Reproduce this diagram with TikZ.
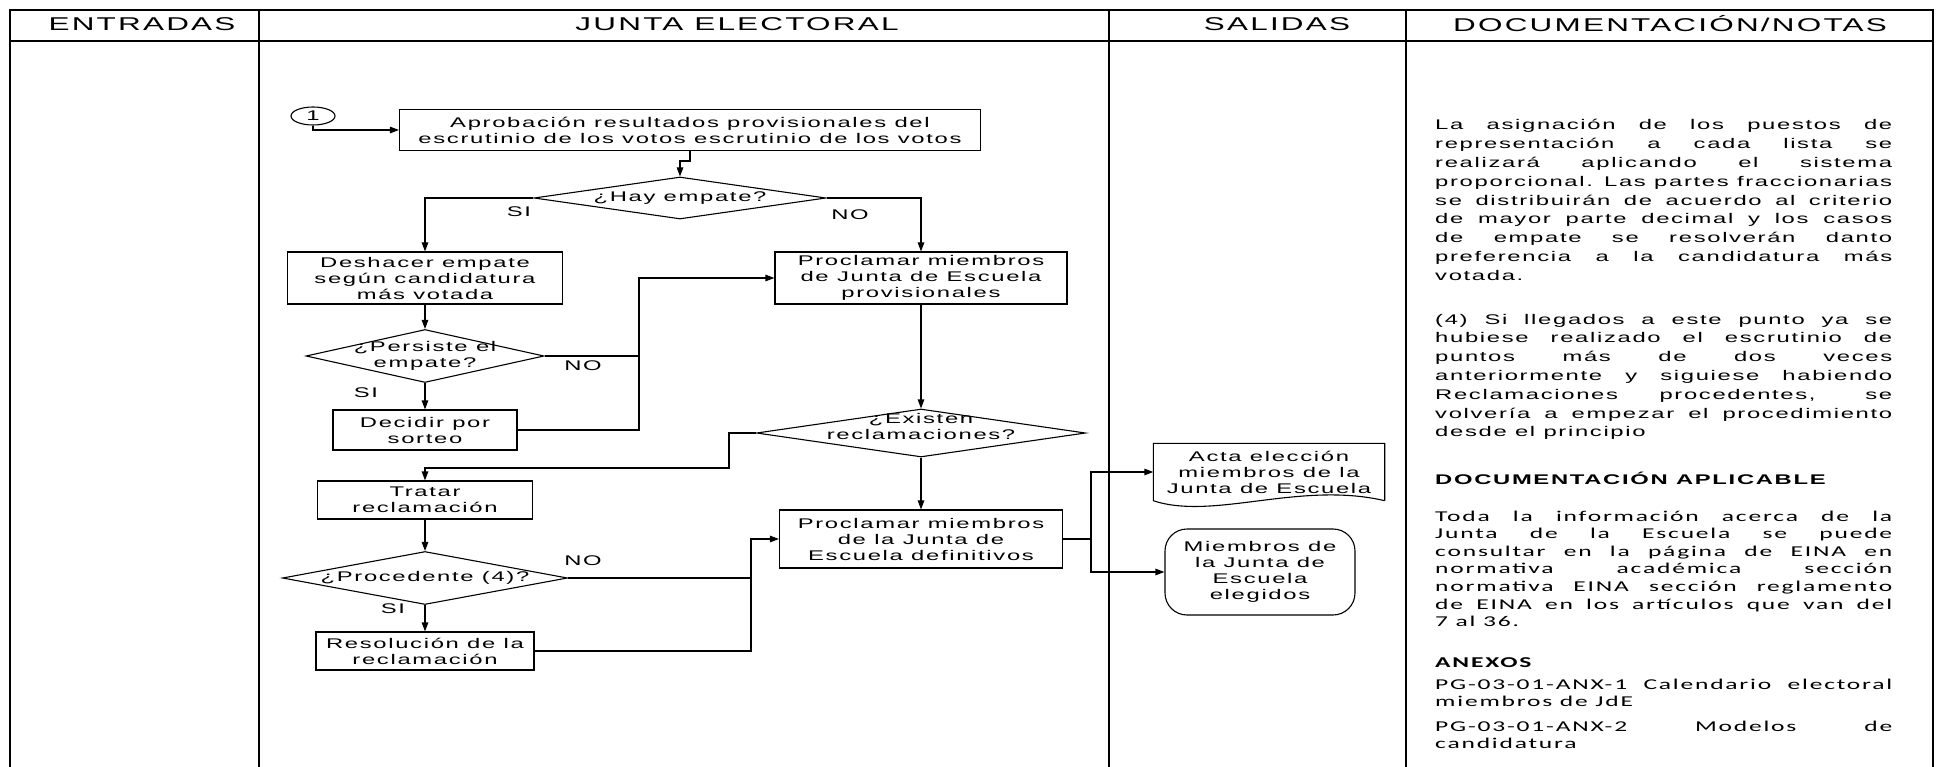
\documentclass[tikz,border=0pt]{standalone}
\usepackage{fontspec}
\setmainfont{Liberation Sans}[FakeStretch=1.7,LetterSpace=12]
\newfontfamily\calib{Carlito}[FakeStretch=1.7,LetterSpace=12]
\usetikzlibrary{arrows.meta, positioning, shapes.geometric}
\newcommand\jline[2][s]{\makebox[457pt][#1]{\spaceskip=0pt\xspaceskip=0pt\relax#2}}

\begin{document}
\begin{tikzpicture}[
        x=1pt, y=1pt,
        node distance=80pt,
        every node/.style={font=\fontsize{14}{16}\selectfont, inner sep=0pt},
        link/.style={line width=1.1pt},
        arrow/.style={-{Triangle[length=9pt,width=6.5pt]}, line width=1.1pt}
    ]

    \tikzset{
    procbox/.style={draw, line width=1.1pt, align=center},
    decision/.style={diamond, draw, line width=1.1pt},
    tbl/.style={line width=1.6pt},
    hdr/.style={font=\fontsize{18.5}{22}\selectfont},
    notes/.style={anchor=base west, text width=457pt, font=\fontsize{14}{18.8}\selectfont},
    cnotes/.style={anchor=base west, text width=457pt, font=\calib\fontsize{15}{17.6}\selectfont}
}

    \useasboundingbox (0,0) rectangle (1937,-767);

    % table
    \draw[tbl] (10,-767) -- (10,-10) -- (1933,-10) -- (1933,-767);
    \draw[tbl] (10,-41) -- (1933,-41);
    \foreach \x in {259,1109,1406}
        \draw[tbl] (\x,-10) -- (\x,-767);

    \node[hdr] (hent) at (142,-24) {ENTRADAS};
    \node[hdr] (hjun) at (737,-24) {JUNTA ELECTORAL};
    \node[hdr] (hsal) at (1277,-24) {SALIDAS};
    \node[hdr] (hdoc) at (1670,-24) {DOCUMENTACIÓN/NOTAS};

    % flow
    \node[ellipse, draw, line width=1.1pt, minimum width=44pt, minimum height=18pt] (c1) at (313,-116) {1};
    \node[procbox, minimum width=581pt, minimum height=41pt] (aprob) at (690,-130) {Aprobación resultados provisionales del\\escrutinio de los votos escrutinio de los votos};
    \node[decision, minimum width=292pt, minimum height=42pt, label={center:¿Hay empate?}] (hay) at (680,-198) {};

    \node[procbox, minimum width=275pt, minimum height=52pt] (desh) at (425,-278) {Deshacer empate\\según candidatura\\más votada};
    \node[decision, minimum width=238pt, minimum height=53pt, label={[align=center]center:{¿Persiste el\\empate?}}] (pers) [node distance=78pt, below of=desh] {};
    \node[procbox, minimum width=184pt, minimum height=40pt] (deci) [node distance=74pt, below of=pers] {Decidir por\\sorteo};
    \node[procbox, minimum width=215pt, minimum height=38pt] (trat) [node distance=70pt, below of=deci] {Tratar\\reclamación};
    \node[decision, minimum width=285pt, minimum height=53pt, label={center:¿Procedente (4)?}] (proc) [node distance=78pt, below of=trat] {};
    \node[procbox, minimum width=218pt, minimum height=38pt] (reso) [node distance=73pt, below of=proc] {Resolución de la\\reclamación};

    \node[procbox, minimum width=292pt, minimum height=52pt] (prov) [node distance=496pt, right of=desh] {Proclamar miembros\\de Junta de Escuela\\provisionales};
    \node[decision, minimum width=329pt, minimum height=48pt, label={[align=center, yshift=7pt]center:{¿Existen\\reclamaciones?}}] (exis) [node distance=155pt, below of=prov] {};
    \node[procbox, minimum width=283pt, minimum height=58pt] (defi) [node distance=106pt, below of=exis] {Proclamar miembros\\de la Junta de\\Escuela definitivos};

    \node[minimum width=231pt, minimum height=57pt, align=center] (acta) at (1269,-472) {Acta elección\\miembros de la\\Junta de Escuela};
    \draw[link] (acta.south east) -- (acta.north east) -- (acta.north west) -- (acta.south west)
        .. controls +(60,-20) and +(-85,20) .. (acta.south east);
    \node[procbox, rounded corners=22pt, minimum width=190pt, minimum height=86pt] (miem) at (1260,-572) {Miembros de\\la Junta de\\Escuela\\elegidos};

    \node (si1) at (519,-212) {SI};
    \node (no1) at (850,-215) {NO};
    \node (no2) at (583,-366) {NO};
    \node (si2) at (366,-393) {SI};
    \node (no3) at (583,-561) {NO};
    \node (si3) at (393,-609) {SI};

    \coordinate (jp) at (639,-356);
    \coordinate (jr) at (729,-468);
    \coordinate (jd) at (751,-578);
    \coordinate (js) at (1091,-539);

    \draw[arrow] (c1.south) |- (aprob.west);
    \draw[arrow] (aprob.south) -- ++(0,-10) -| (hay.north);
    \draw[arrow] (hay.west) -| (desh.north);
    \draw[arrow] (hay.east) -| (prov.north);
    \draw[arrow] (desh.south) -- (pers.north);
    \draw[arrow] (pers.south) -- (deci.north);
    \draw[link] (pers.east) -- (jp);
    \draw[link] (deci.east) -| (jp);
    \draw[arrow] (jp) |- (prov.west);
    \draw[arrow] (prov.south) -- (exis.north);
    \draw[arrow] (exis.south) -- (defi.north);
    \draw[arrow] (exis.west) -| (jr) -| (trat.north);
    \draw[arrow] (trat.south) -- (proc.north);
    \draw[arrow] (proc.south) -- (reso.north);
    \draw[link] (proc.east) -- (jd);
    \draw[link] (reso.east) -| (jd);
    \draw[arrow] (jd) |- (defi.west);
    \draw[link] (defi.east) -- (js);
    \draw[arrow] (js) |- (acta.west);
    \draw[arrow] (js) |- (miem.west);

    % notes
    \node[notes] (nasig) at (1435,-130) {\jline{La asignación de los puestos de}\\
        \jline{representación a cada lista se}\\
        \jline{realizará aplicando el sistema}\\
        \jline{proporcional. Las partes fraccionarias}\\
        \jline{se distribuirán de acuerdo al criterio}\\
        \jline{de mayor parte decimal y los casos}\\
        \jline{de empate se resolverán danto}\\
        \jline{preferencia a la candidatura más}\\
        \jline[l]{votada.}};
    \node[notes] (nlleg) at (1435,-324) {\jline{(4) Si llegados a este punto ya se}\\
        \jline{hubiese realizado el escrutinio de}\\
        \jline{puntos más de dos veces}\\
        \jline{anteriormente y siguiese habiendo}\\
        \jline{Reclamaciones procedentes, se}\\
        \jline{volvería a empezar el procedimiento}\\
        \jline[l]{desde el principio}};
    \node[notes, font=\bfseries\fontsize{14}{18}\selectfont] (ndoc) at (1435,-484) {\jline[l]{DOCUMENTACIÓN APLICABLE}};
    \node[cnotes] (ntoda) at (1435,-521) {\jline{Toda la información acerca de la}\\
        \jline{Junta de la Escuela se puede}\\
        \jline{consultar en la página de EINA en}\\
        \jline{normativa académica sección}\\
        \jline{normativa EINA sección reglamento}\\
        \jline{de EINA en los artículos que van del}\\
        \jline[l]{7 al 36.}};
    \node[cnotes, font=\calib\bfseries\fontsize{15}{18}\selectfont] (nanex) at (1435,-667) {ANEXOS};
    \node[cnotes] (nanx1) at (1435,-689) {\jline{PG-03-01-ANX-1 Calendario electoral}\\
        \jline[l]{miembros de JdE}};
    \node[cnotes] (nanx2) at (1435,-731) {\jline{PG-03-01-ANX-2 Modelos de}\\
        \jline[l]{candidatura}};
\end{tikzpicture}
\end{document}
